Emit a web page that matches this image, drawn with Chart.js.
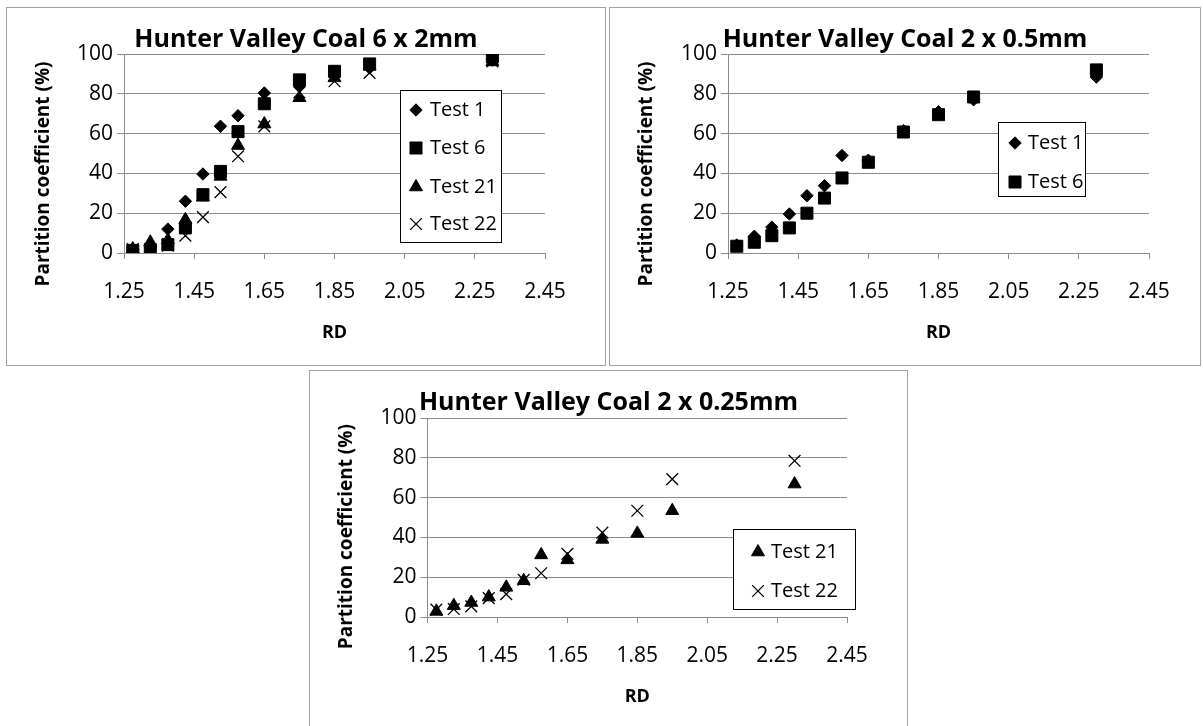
<!DOCTYPE html>
<html><head><meta charset="utf-8">
<script src="https://cdn.jsdelivr.net/npm/chart.js@4.4.1/dist/chart.umd.min.js"></script>
<style>
html,body{margin:0;padding:0;background:#fff;width:1203px;height:726px;overflow:hidden;}
.box{position:absolute;box-sizing:border-box;border:1px solid #a3a3a3;background:#fff;}
.box canvas{display:block;}
</style></head><body>
<div class="box" style="left:6px;top:7px;width:600px;height:359px;"><canvas id="c1"></canvas></div>
<div class="box" style="left:609px;top:7px;width:592px;height:359px;"><canvas id="c2"></canvas></div>
<div class="box" style="left:309px;top:370px;width:599px;height:358px;"><canvas id="c3"></canvas></div>
<script>
// ---- data ----
const rd = [1.275, 1.325, 1.375, 1.425, 1.475, 1.525, 1.575, 1.65, 1.75, 1.85, 1.95, 2.3];
const xTicks = [1.25, 1.45, 1.65, 1.85, 2.05, 2.25, 2.45];
const xTickLabels = ['1.25', '1.45', '1.65', '1.85', '2.05', '2.25', '2.45'];
const yTicks = [0, 20, 40, 60, 80, 100];
const yTickLabels = ['0', '20', '40', '60', '80', '100'];

const c1Test1  = [1.7, 3, 12, 26, 39.7, 63.7, 69, 80.4, 84, 89, 93, 97];
const c1Test6  = [1.3, 1.7, 4.2, 12.6, 29.3, 41, 61, 75, 87, 91.3, 95, 98.5];
const c1Test21 = [2, 5.4, 6.5, 16.7, 28, 38.5, 54, 64.8, 78, 88, 93.8, 96];
const c1Test22 = [2, 1.7, 3.7, 8.7, 18, 30.6, 48.6, 63.6, 80.7, 86.3, 90.5, 96.3];

const c2Test1  = [4, 8.4, 13, 19.6, 28.8, 33.8, 49, 46.6, 61.5, 71, 77, 88.4];
const c2Test6  = [3.4, 5.4, 8.7, 12.6, 20, 27.6, 37.7, 45.6, 60.8, 69.5, 78.4, 92];

const c3Test21 = [2.8, 5.7, 7.3, 10, 14.9, 18.2, 31.2, 28.7, 39, 42, 53.4, 66.8];
const c3Test22 = [3.7, 4, 5.3, 9.5, 11.5, 18.7, 22, 31.7, 42.4, 53.4, 69.3, 78.5];

const titles = ['Hunter Valley Coal 6 x 2mm', 'Hunter Valley Coal 2 x 0.5mm', 'Hunter Valley Coal 2 x 0.25mm'];
const xTitle = 'RD';
const yTitleText = 'Partition coefficient (%)';

// ---- styles ----
const GRID = '#8c8c8c';
const FONT = 'Open Sans';
const MARK = {
  'Test 1':  {pointStyle: 'rectRot',  radius: 6.2, borderWidth: 1},
  'Test 6':  {pointStyle: 'rect',     radius: 8.5, borderWidth: 1},
  'Test 21': {pointStyle: 'triangle', radius: 7.5, borderWidth: 1},
  'Test 22': {pointStyle: 'crossRot', radius: 8.3, borderWidth: 1.3}
};

function series(label, values) {
  const m = MARK[label];
  return {
    label,
    data: rd.map((x, i) => ({x, y: values[i]})),
    pointStyle: m.pointStyle,
    pointRadius: m.radius,
    pointHoverRadius: m.radius,
    borderWidth: m.borderWidth,
    backgroundColor: '#000',
    borderColor: '#000',
    showLine: false
  };
}

function drawMarker(ctx, style, r, bw, x, y) {
  if (Chart.helpers && Chart.helpers.drawPoint) {
    Chart.helpers.drawPoint(ctx, {pointStyle: style, radius: r, borderWidth: bw, rotation: 0}, x, y);
    return;
  }
  ctx.beginPath();
  if (style === 'rect') { const s = r * Math.SQRT1_2; ctx.rect(x - s, y - s, 2 * s, 2 * s); ctx.fill(); }
  else if (style === 'rectRot') { ctx.moveTo(x, y - r); ctx.lineTo(x + r, y); ctx.lineTo(x, y + r); ctx.lineTo(x - r, y); ctx.closePath(); ctx.fill(); }
  else if (style === 'triangle') { ctx.moveTo(x, y - r); ctx.lineTo(x + r * 0.866, y + r / 2); ctx.lineTo(x - r * 0.866, y + r / 2); ctx.closePath(); ctx.fill(); }
  else { const s = r * Math.SQRT1_2; ctx.moveTo(x - s, y - s); ctx.lineTo(x + s, y + s); ctx.moveTo(x + s, y - s); ctx.lineTo(x - s, y + s); ctx.stroke(); }
}

const boxLegend = {
  id: 'boxLegend',
  afterDraw(chart, args, o) {
    const ctx = chart.ctx;
    ctx.save();
    ctx.fillStyle = '#fff';
    ctx.fillRect(o.x, o.y, o.w, o.h);
    ctx.strokeStyle = '#000';
    ctx.lineWidth = 1;
    ctx.strokeRect(o.x + 0.5, o.y + 0.5, o.w - 1, o.h - 1);
    chart.data.datasets.forEach((ds, i) => {
      const y = o.rows[i];
      ctx.fillStyle = ds.backgroundColor;
      ctx.strokeStyle = ds.borderColor;
      ctx.lineWidth = ds.borderWidth;
      drawMarker(ctx, ds.pointStyle, ds.pointRadius, ds.borderWidth, o.markerX, y);
      ctx.fillStyle = '#000';
      ctx.font = o.font;
      ctx.textAlign = 'left';
      ctx.textBaseline = 'middle';
      ctx.fillText(ds.label, o.textX, y);
    });
    ctx.restore();
  }
};

const yTitlePlugin = {
  id: 'yTitle',
  afterDraw(chart, args, o) {
    const ctx = chart.ctx;
    ctx.save();
    ctx.translate(o.x, o.y);
    ctx.rotate(-Math.PI / 2);
    ctx.font = o.font;
    ctx.fillStyle = '#000';
    ctx.textAlign = 'center';
    ctx.textBaseline = 'middle';
    ctx.fillText(o.text, 0, 0);
    ctx.restore();
  }
};

function makeChart(id, cfg) {
  return new Chart(document.getElementById(id), {
    type: 'scatter',
    data: {datasets: cfg.datasets},
    options: {
      responsive: true,
      maintainAspectRatio: false,
      animation: false,
      events: [],
      layout: {padding: 0},
      plugins: {
        legend: {display: false},
        tooltip: {enabled: false},
        title: {
          display: true, text: cfg.title, color: '#000',
          font: {family: FONT, size: 25, weight: 'bold', lineHeight: 1.1},
          padding: {top: cfg.titleTop, bottom: cfg.titleBottom}
        },
        boxLegend: cfg.legend,
        yTitle: {x: 36.5, y: cfg.yTitleY, text: yTitleText, font: 'bold 19px "' + FONT + '"'}
      },
      scales: {
        x: {
          type: 'linear', min: xTicks[0], max: xTicks[xTicks.length - 1],
          afterBuildTicks(s) { s.ticks = xTicks.map(v => ({value: v})); },
          afterFit(s) { s.height = cfg.xAxisH; },
          ticks: {
            callback: (v, i) => xTickLabels[i],
            font: {family: FONT, size: 21}, color: '#000',
            padding: 20.5, maxRotation: 0, autoSkip: false
          },
          grid: {drawOnChartArea: false, drawTicks: true, tickLength: 6, color: GRID},
          border: {display: true, color: GRID},
          title: {
            display: true, text: xTitle, color: '#000',
            font: {family: FONT, size: 18, weight: 'bold', lineHeight: 1.2},
            padding: {top: 0, bottom: cfg.rdBottom}
          }
        },
        y: {
          type: 'linear', min: yTicks[0], max: yTicks[yTicks.length - 1],
          afterBuildTicks(s) { s.ticks = yTicks.map(v => ({value: v})); },
          afterFit(s) { s.width = cfg.yAxisW; },
          ticks: {
            callback: (v, i) => yTickLabels[i],
            font: {family: FONT, size: 21}, color: '#000', padding: 4
          },
          grid: {drawOnChartArea: true, drawTicks: true, tickLength: 7, color: GRID},
          border: {display: true, color: GRID}
        },
        // empty right-hand spacer so the title stays centred on the whole frame
        spacer: {
          type: 'linear', position: 'right', display: true,
          afterFit(s) { s.width = cfg.padRight; },
          ticks: {display: false},
          grid: {display: false, drawTicks: false},
          border: {display: false}
        }
      }
    },
    plugins: [boxLegend, yTitlePlugin]
  });
}

const legendFont = '20px "' + FONT + '"';

makeChart('c1', {
  title: titles[0],
  datasets: [series('Test 1', c1Test1), series('Test 6', c1Test6), series('Test 21', c1Test21), series('Test 22', c1Test22)],
  padRight: 60, yAxisW: 117, xAxisH: 112, titleTop: 18.2, titleBottom: 0.3, rdBottom: 21.2, yTitleY: 166,
  legend: {x: 393, y: 82, w: 102, h: 153, rows: [102, 140, 179, 216], markerX: 409, textX: 423, font: legendFont}
});
makeChart('c2', {
  title: titles[1],
  datasets: [series('Test 1', c2Test1), series('Test 6', c2Test6)],
  padRight: 51, yAxisW: 118, xAxisH: 112, titleTop: 18.2, titleBottom: 0.3, rdBottom: 21.2, yTitleY: 166,
  legend: {x: 388, y: 114, w: 88, h: 75, rows: [135, 174], markerX: 405, textX: 418, font: legendFont}
});
makeChart('c3', {
  title: titles[2],
  datasets: [series('Test 21', c3Test21), series('Test 22', c3Test22)],
  padRight: 60, yAxisW: 117.6, xAxisH: 110, titleTop: 17.9, titleBottom: 1.6, rdBottom: 19.5, yTitleY: 165.7,
  legend: {x: 423, y: 158, w: 123, h: 81, rows: [181, 220], markerX: 448, textX: 461, font: legendFont}
});
</script>
</body></html>
